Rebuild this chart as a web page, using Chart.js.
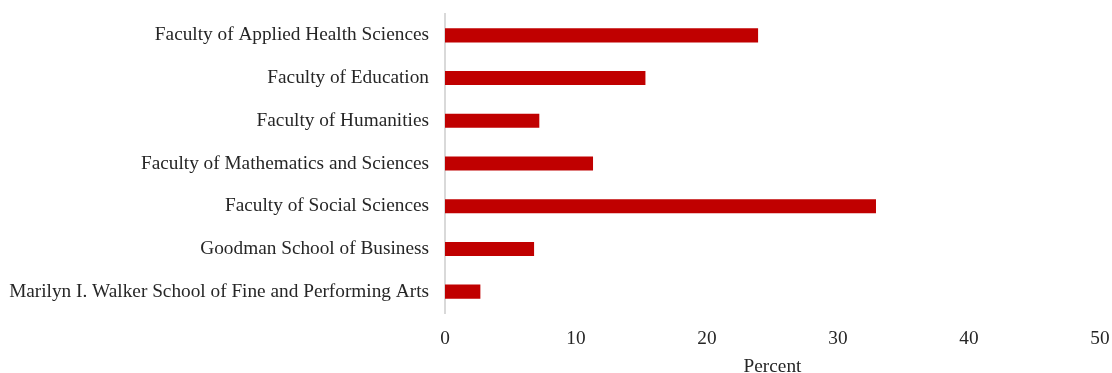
<!DOCTYPE html>
<html>
<head>
<meta charset="utf-8">
<script src="https://cdn.jsdelivr.net/npm/chart.js@4"></script>
<style>
  html, body { margin: 0; padding: 0; background: #ffffff; }
  #wrap { width: 1112px; height: 373px; position: relative; }
</style>
</head>
<body>
<div id="wrap"><canvas id="c"></canvas></div>
<script>
const categories = [
  "Faculty of Applied Health Sciences",
  "Faculty of Education",
  "Faculty of Humanities",
  "Faculty of Mathematics and Sciences",
  "Faculty of Social Sciences",
  "Goodman School of Business",
  "Marilyn I. Walker School of Fine and Performing Arts"
];
const percentValues = [23.9, 15.3, 7.2, 11.3, 32.9, 6.8, 2.7];
const xTicks = [0, 10, 20, 30, 40, 50];
const xTitle = "Percent";

const FONT = "'Liberation Serif', serif";
const TEXT = "#262626";

new Chart(document.getElementById('c'), {
  type: 'bar',
  data: {
    labels: categories,
    datasets: [{
      data: percentValues,
      backgroundColor: '#c00000',
      borderWidth: 0,
      categoryPercentage: 1,
      barPercentage: 0.33
    }]
  },
  options: {
    indexAxis: 'y',
    responsive: true,
    maintainAspectRatio: false,
    animation: false,
    layout: { padding: { top: 14, right: 12, bottom: 0, left: 0 } },
    plugins: { legend: { display: false }, tooltip: { enabled: false } },
    scales: {
      y: {
        grid: { display: false, drawTicks: false },
        border: { display: true, color: '#d9d9d9', width: 2 },
        ticks: { color: TEXT, font: { family: FONT, size: 19.3 }, padding: 16 },
        afterFit: (s) => { s.width = 445; s.paddingTop = 0; s.paddingBottom = 0; }
      },
      x: {
        min: 0, max: 50,
        grid: { display: false, drawTicks: false },
        border: { display: false },
        afterBuildTicks: (s) => { s.ticks = xTicks.map(v => ({ value: v })); },
        ticks: { color: TEXT, font: { family: FONT, size: 19.3 }, padding: 14 },
        title: { display: true, text: xTitle, color: TEXT, font: { family: FONT, size: 19.3 }, padding: { top: 0, bottom: -6 } },
        afterFit: (s) => { s.height = 60; s.paddingLeft = 0; s.paddingRight = 0; }
      }
    }
  }
});
</script>
</body>
</html>
